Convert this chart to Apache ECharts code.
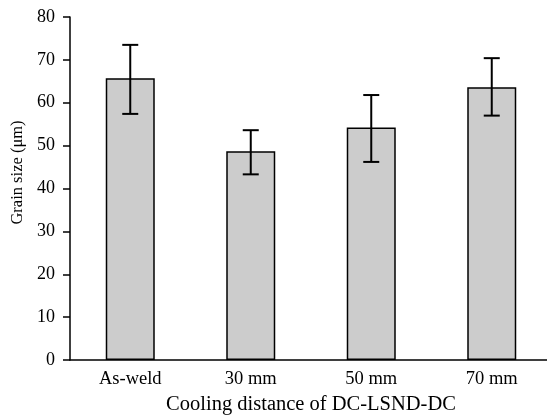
<!DOCTYPE html>
<html>
<head>
<meta charset="utf-8">
<script src="https://cdn.jsdelivr.net/npm/echarts@6/dist/echarts.min.js"></script>
<style>
html,body{margin:0;padding:0;background:#fff;}
#c{width:547px;height:418px;}
</style>
</head>
<body>
<div id="c"></div>
<script>
var categories = ['As-weld', '30 mm', '50 mm', '70 mm'];
var grainSize = [65.7, 48.7, 54.2, 63.6];
var errUpper = [73.5, 53.6, 61.8, 70.4];
var errLower = [57.4, 43.3, 46.2, 57.0];
var yTicks = [0, 10, 20, 30, 40, 50, 60, 70, 80];

var font = 'Liberation Serif, Times New Roman, serif';
var chart = echarts.init(document.getElementById('c'), null, {renderer: 'canvas'});

var errData = categories.map(function (c, i) { return [i, errLower[i], errUpper[i]]; });

chart.setOption({
  animation: false,
  backgroundColor: '#fff',
  grid: {left: 70, top: 17, bottom: 58, right: -5, containLabel: false, outerBoundsMode: 'none'},
  xAxis: {
    type: 'category',
    data: categories,
    name: 'Cooling distance of DC-LSND-DC',
    nameLocation: 'middle',
    nameGap: 34,
    nameTextStyle: {fontFamily: font, fontSize: 20.5, color: '#000'},
    axisLine: {lineStyle: {color: '#000', width: 1.5}},
    axisTick: {alignWithLabel: true, length: 6, lineStyle: {color: '#000', width: 1.5}},
    axisLabel: {fontFamily: font, fontSize: 18.5, color: '#000', margin: 10}
  },
  yAxis: {
    type: 'value',
    min: yTicks[0],
    max: yTicks[yTicks.length - 1],
    interval: 10,
    name: 'Grain size (\u03bcm)',
    nameLocation: 'middle',
    nameGap: 42,
    nameTextStyle: {fontFamily: font, fontSize: 16.5, color: '#000', padding: [0, 0, 0, 32]},
    axisLine: {show: true, lineStyle: {color: '#000', width: 1.5}},
    axisTick: {show: true, length: 7, lineStyle: {color: '#000', width: 1.5}},
    axisLabel: {fontFamily: font, fontSize: 18, color: '#000', margin: 15},
    splitLine: {show: false}
  },
  series: [
    {
      type: 'bar',
      data: grainSize,
      barWidth: 49,
      itemStyle: {color: '#cccccc', borderColor: '#000', borderWidth: 1.5}
    },
    {
      type: 'custom',
      data: errData,
      z: 10,
      renderItem: function (params, api) {
        var x = api.value(0);
        var lo = api.coord([x, api.value(1)]);
        var hi = api.coord([x, api.value(2)]);
        var hw = 8;
        var st = {stroke: '#000', lineWidth: 2};
        return {
          type: 'group',
          children: [
            {type: 'line', shape: {x1: hi[0], y1: hi[1], x2: lo[0], y2: lo[1]}, style: st},
            {type: 'line', shape: {x1: hi[0] - hw, y1: hi[1], x2: hi[0] + hw, y2: hi[1]}, style: st},
            {type: 'line', shape: {x1: lo[0] - hw, y1: lo[1], x2: lo[0] + hw, y2: lo[1]}, style: st}
          ]
        };
      }
    }
  ]
});
</script>
</body>
</html>
